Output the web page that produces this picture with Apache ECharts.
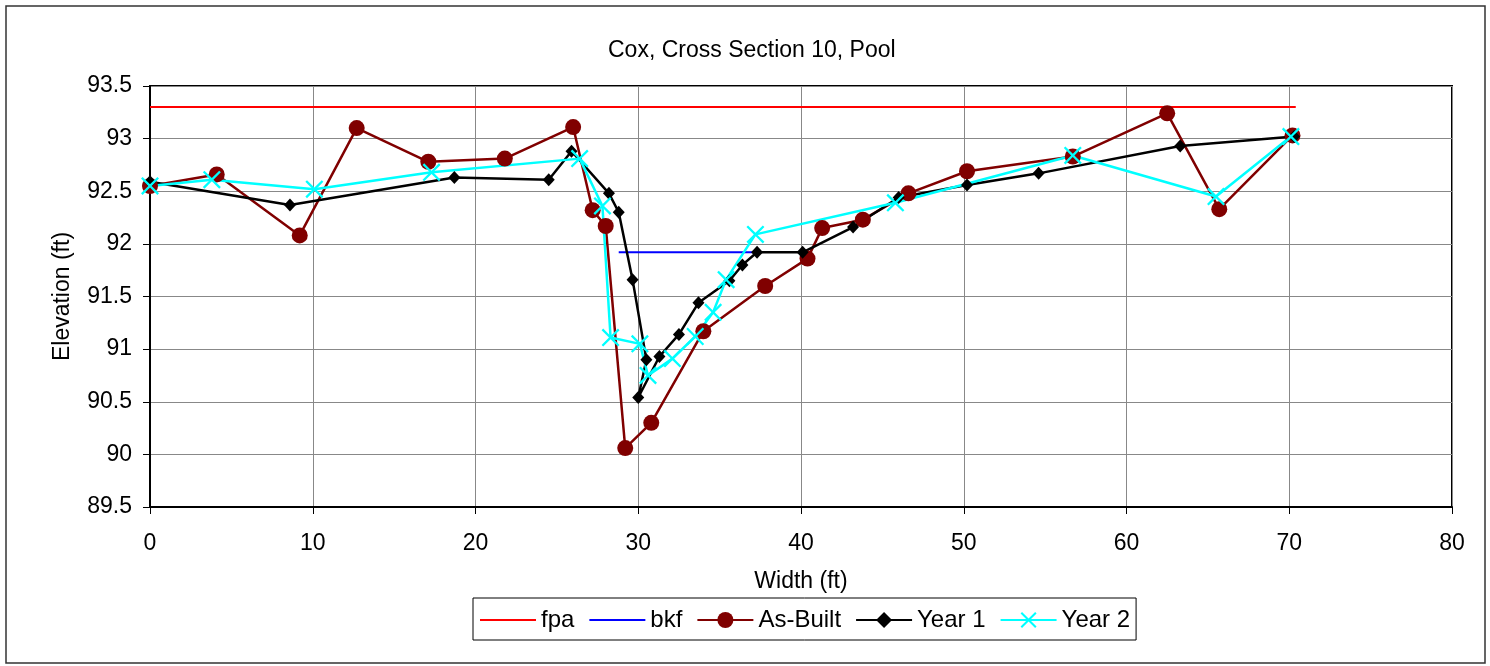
<!DOCTYPE html>
<html>
<head>
<meta charset="utf-8">
<script src="https://cdn.jsdelivr.net/npm/echarts@6/dist/echarts.min.js"></script>
<style>
  html, body { margin: 0; padding: 0; background: #fff; }
  #chart { width: 1490px; height: 666px; }
</style>
</head>
<body>
<div id="chart"></div>
<script>
  // fpa / bkf reference lines
  const fpaX = [0, 70.4];
  const fpaY = [93.3, 93.3];
  const bkfX = [28.8, 37.0];
  const bkfY = [91.92, 91.92];

  // surveyed cross sections
  const asBuiltX = [0, 4.1, 9.2, 12.7, 17.1, 21.8, 26.0, 27.2, 28.0, 29.2, 30.8, 34.0, 37.8, 40.4, 41.3, 43.8, 46.6, 50.2, 56.7, 62.5, 65.7, 70.2];
  const asBuiltY = [92.55, 92.66, 92.08, 93.1, 92.78, 92.81, 93.11, 92.32, 92.17, 90.06, 90.3, 91.17, 91.6, 91.86, 92.15, 92.23, 92.48, 92.69, 92.83, 93.24, 92.33, 93.03];

  const year1X = [0, 8.6, 18.7, 24.5, 25.9, 28.2, 28.8, 29.65, 30.5, 30.0, 31.3, 32.5, 33.7, 35.6, 36.4, 37.3, 40.1, 43.2, 46.0, 50.2, 54.6, 63.3, 70.3];
  const year1Y = [92.59, 92.37, 92.63, 92.61, 92.88, 92.48, 92.3, 91.66, 90.9, 90.54, 90.93, 91.14, 91.44, 91.65, 91.8, 91.92, 91.92, 92.16, 92.44, 92.56, 92.67, 92.93, 93.02];

  const year2X = [0, 3.8, 10.1, 17.3, 26.4, 27.8, 28.3, 30.1, 30.6, 32.1, 33.5, 34.6, 35.4, 37.2, 45.8, 56.7, 65.5, 70.1];
  const year2Y = [92.55, 92.61, 92.52, 92.68, 92.81, 92.36, 91.11, 91.05, 90.75, 90.91, 91.12, 91.35, 91.66, 92.09, 92.39, 92.84, 92.45, 93.02];

  const xTicks = { min: 0, max: 80, interval: 10 };
  const yTicks = { min: 89.5, max: 93.5, interval: 0.5 };

  function pairs(xs, ys) {
    return xs.map((x, i) => [x, ys[i]]);
  }

  const FONT = 'Liberation Sans, Arial, sans-serif';
  const crossPath = 'path://M0,0.9L0.9,0L5,4.1L9.1,0L10,0.9L5.9,5L10,9.1L9.1,10L5,5.9L0.9,10L0,9.1L4.1,5Z';

  const myChart = echarts.init(document.getElementById('chart'));
  const option = {
    backgroundColor: '#fff',
    animation: false,
    title: {
      text: 'Cox, Cross Section 10, Pool',
      left: 603,
      top: 34,
      textStyle: { fontFamily: FONT, fontSize: 23, fontWeight: 'normal', color: '#000' }
    },
    graphic: [{
      type: 'rect',
      shape: { x: 6, y: 6, width: 1479, height: 657 },
      style: { fill: 'none', stroke: '#333', lineWidth: 1.5 },
      silent: true
    }],
    grid: {
      left: 150, right: 38, top: 86, bottom: 159,
      show: true, borderColor: '#000', borderWidth: 2
    },
    legend: {
      left: 473, top: 598,
      padding: [10, 6, 8, 6],
      itemGap: 14,
      itemWidth: 56,
      itemHeight: 20,
      borderColor: '#000',
      borderWidth: 1,
      textStyle: { fontFamily: FONT, fontSize: 24, color: '#000' },
      data: [
        { name: 'fpa', itemStyle: { opacity: 0 } },
        { name: 'bkf', itemStyle: { opacity: 0 } },
        'As-Built', 'Year 1', 'Year 2'
      ]
    },
    xAxis: {
      type: 'value',
      min: xTicks.min, max: xTicks.max, interval: xTicks.interval,
      name: 'Width (ft)',
      nameLocation: 'middle',
      nameGap: 63,
      nameTextStyle: { fontFamily: FONT, fontSize: 23, color: '#000' },
      axisLine: { show: true, onZero: false, lineStyle: { color: '#000', width: 2 } },
      axisTick: { show: true, length: 7, lineStyle: { color: '#000' } },
      axisLabel: { fontFamily: FONT, fontSize: 23, color: '#000', margin: 25 },
      splitLine: { show: true, lineStyle: { color: '#888', width: 1 } }
    },
    yAxis: {
      type: 'value',
      min: yTicks.min, max: yTicks.max, interval: yTicks.interval,
      name: 'Elevation (ft)',
      nameLocation: 'middle',
      nameGap: 76,
      nameTextStyle: { fontFamily: FONT, fontSize: 23, color: '#000' },
      axisLine: { show: true, onZero: false, lineStyle: { color: '#000', width: 2 } },
      axisTick: { show: true, length: 7, lineStyle: { color: '#000' } },
      axisLabel: { fontFamily: FONT, fontSize: 23, color: '#000', margin: 18 },
      splitLine: { show: true, lineStyle: { color: '#888', width: 1 } }
    },
    series: [
      {
        name: 'fpa', type: 'line', symbol: 'none',
        data: pairs(fpaX, fpaY),
        lineStyle: { color: '#ff0000', width: 2 },
        itemStyle: { color: '#ff0000' }
      },
      {
        name: 'bkf', type: 'line', symbol: 'none',
        data: pairs(bkfX, bkfY),
        lineStyle: { color: '#0000ff', width: 2 },
        itemStyle: { color: '#0000ff' }
      },
      {
        name: 'As-Built', type: 'line', symbol: 'circle', symbolSize: 16,
        data: pairs(asBuiltX, asBuiltY),
        lineStyle: { color: '#800000', width: 2.5 },
        itemStyle: { color: '#800000' }
      },
      {
        name: 'Year 1', type: 'line', symbol: 'diamond', symbolSize: [12, 13],
        data: pairs(year1X, year1Y),
        lineStyle: { color: '#000', width: 2.5 },
        itemStyle: { color: '#000' }
      },
      {
        name: 'Year 2', type: 'line', symbol: crossPath, symbolSize: 18,
        data: pairs(year2X, year2Y),
        lineStyle: { color: '#00ffff', width: 2.5 },
        itemStyle: { color: '#00ffff' }
      }
    ]
  };
  myChart.setOption(option);
</script>
</body>
</html>
